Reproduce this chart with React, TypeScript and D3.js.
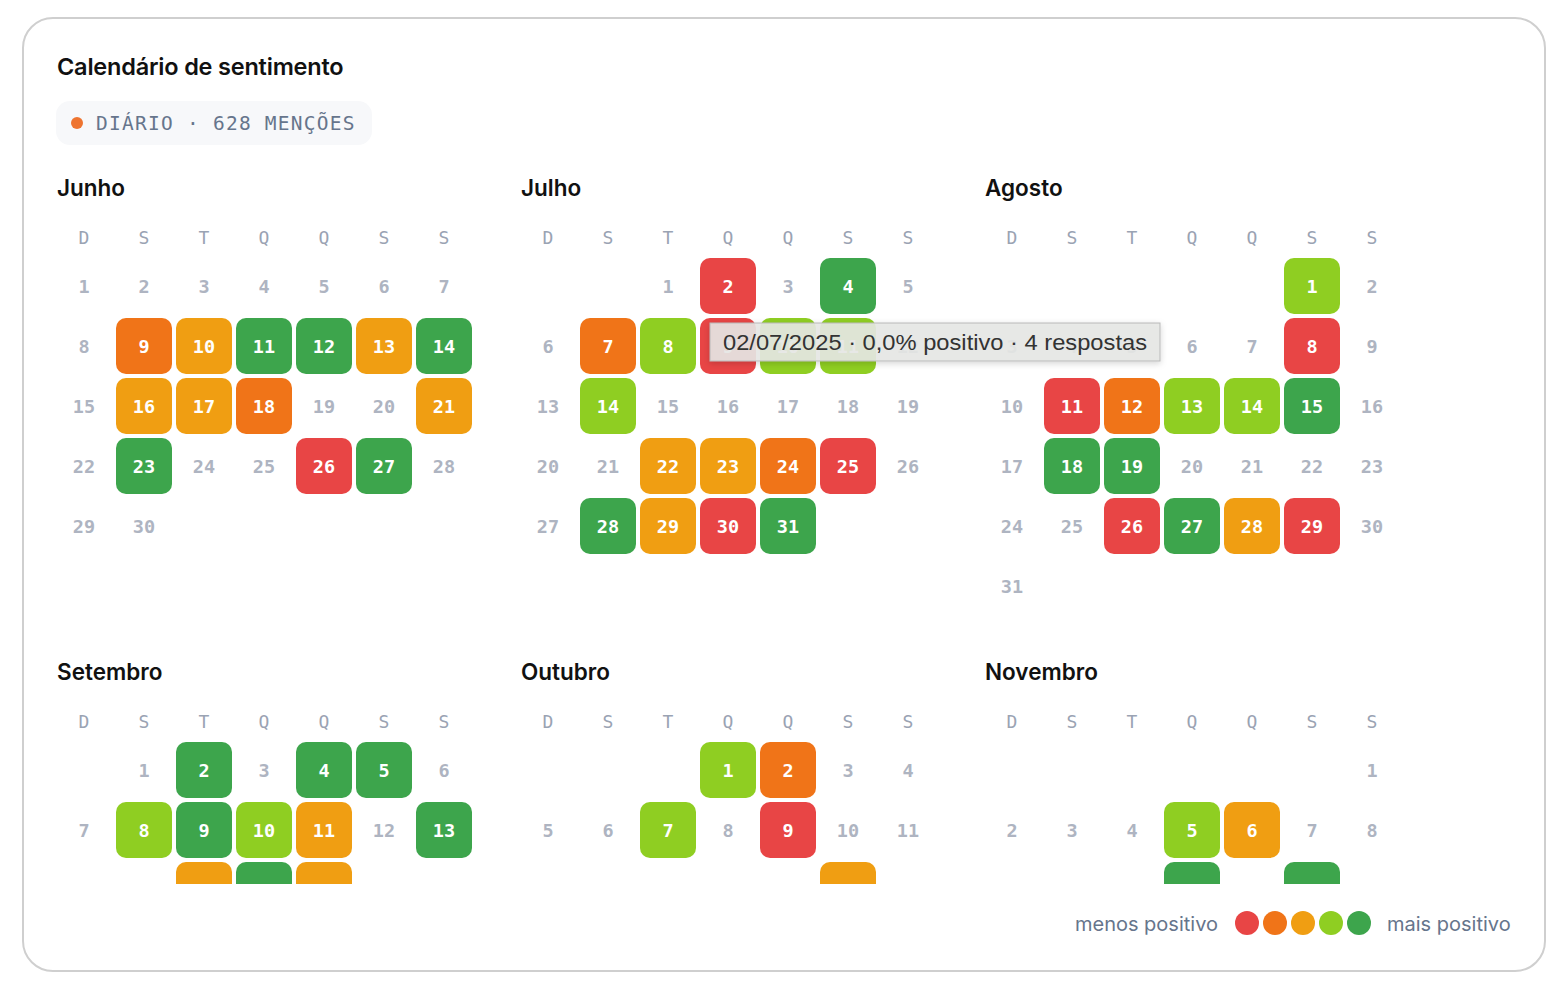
import React from "react";
import * as d3 from "d3";

// ---- data ----
const year = 2025;
const monthNames = ["Junho", "Julho", "Agosto", "Setembro", "Outubro", "Novembro"];
const monthIndex = [5, 6, 7, 8, 9, 10];
const weekdayLabels = ["D", "S", "T", "Q", "Q", "S", "S"];
// sentiment level per day: 0 = menos positivo ... 4 = mais positivo, null = sem dados
const _ = null;
const junho = [_, _, _, _, _, _, _, _, 1, 2, 4, 4, 2, 4, _, 2, 2, 1, _, _, 2, _, 4, _, _, 0, 4, _, _, _];
const julho = [_, 0, _, 4, _, _, 1, 3, 0, 3, 3, _, _, 3, _, _, _, _, _, _, _, 2, 2, 1, 0, _, _, 4, 2, 0, 4];
const agosto = [3, _, _, _, _, _, _, 0, _, _, 0, 1, 3, 3, 4, _, _, 4, 4, _, _, _, _, _, _, 0, 4, 2, 0, _, _];
const setembro = [_, 4, _, 4, 4, _, _, 3, 4, 3, 2, _, 4, _, _, 2, 4, 2, _, _, _, _, _, _, _, _, _, _, _, _];
const outubro = [3, 1, _, _, _, _, 3, _, 0, _, _, _, _, _, _, _, 2, _, _, _, _, _, _, _, _, _, _, _, _, _, _];
const novembro = [_, _, _, _, 3, 2, _, _, _, _, _, 4, _, 4, _, _, _, _, _, _, _, _, _, _, _, _, _, _, _, _];
const monthValues = [junho, julho, agosto, setembro, outubro, novembro];
const levelColors = ["#e84545", "#f07418", "#f09e12", "#8fce22", "#3da54c"];
const totalMentions = 628;
const tooltipText = "02/07/2025 · 0,0% positivo · 4 respostas";

const MONO = "'DejaVu Sans Mono', monospace";
const SANS = "Inter, 'Noto Sans', sans-serif";

export default function App() {
  const colX = d3.scaleBand<number>().domain(d3.range(7)).range([0, 416]).paddingInner(4 / 60).paddingOuter(0);
  const bw = colX.bandwidth();
  const blockX = d3.scalePoint<number>().domain([0, 1, 2]).range([56, 984]);
  const blockY = d3.scalePoint<number>().domain([0, 1]).range([188, 672]);
  const rowY = (r: number) => 98 + r * 60; // row center relative to title center
  const color = d3.scaleOrdinal<number, string>().domain(d3.range(5)).range(levelColors);

  return (
    <svg width={1566} height={988} style={{ position: "absolute", left: 0, top: 0 }}>
      <defs>
        <clipPath id="monthsClip">
          <rect x={30} y={155} width={1500} height={729} />
        </clipPath>
        <filter id="tipShadow" x="-10%" y="-30%" width="120%" height="180%">
          <feDropShadow dx={0} dy={2} stdDeviation={3} floodColor="#000" floodOpacity={0.18} />
        </filter>
      </defs>
      <rect x={23} y={18} width={1522} height={953} rx={30} fill="#fff" stroke="#cfcfcf" strokeWidth={2} />
      <text x={57} y={75} fontFamily={SANS} fontWeight={600} fontSize={23.5} fill="#111" letterSpacing={-0.2}>
        Calendário de sentimento
      </text>
      <rect x={56} y={101} width={316} height={44} rx={14} fill="#f7f8fa" />
      <circle cx={77} cy={123} r={6} fill="#ee7430" />
      <text x={96} y={130} fontFamily={MONO} fontSize={19.5} letterSpacing={1.25} fill="#66758c">
        {`DIÁRIO · ${totalMentions} MENÇÕES`}
      </text>

      <g clipPath="url(#monthsClip)">
        {monthNames.map((name, i) => {
          const bx = blockX(i % 3)!;
          const by = blockY(Math.floor(i / 3))!;
          const first = new Date(year, monthIndex[i], 1);
          const days = d3.timeDays(first, d3.timeMonth.offset(first, 1));
          const vals = monthValues[i];
          return (
            <g key={name} transform={`translate(${bx},${by})`}>
              <text x={1} y={0} dy="0.35em" fontFamily={SANS} fontWeight={600} fontSize={22.5} fill="#111">
                {name}
              </text>
              {weekdayLabels.map((w, k) => (
                <text key={k} x={colX(k)! + bw / 2} y={50} dy="0.35em" textAnchor="middle" fontFamily={MONO} fontSize={18} fill="#9aa3b3">
                  {w}
                </text>
              ))}
              {days.map((d, j) => {
                const c = d.getDay();
                const r = d3.timeWeek.count(first, d);
                const v = vals[j];
                const cx = colX(c)! + bw / 2;
                const cy = rowY(r);
                return (
                  <g key={j}>
                    {v !== null && v !== undefined && (
                      <rect x={colX(c)!} y={cy - bw / 2} width={bw} height={bw} rx={10} fill={color(v)} />
                    )}
                    <text x={cx} y={cy} dy="0.36em" textAnchor="middle" fontFamily={MONO} fontWeight={700} fontSize={18.5}
                      fill={v !== null && v !== undefined ? "#fff" : "#aeb4c1"}>
                      {d.getDate()}
                    </text>
                  </g>
                );
              })}
            </g>
          );
        })}
      </g>

      <g filter="url(#tipShadow)">
        <rect x={710} y={323} width={450} height={38} fill="rgba(231,232,229,0.9)" stroke="#b9b9b9" strokeWidth={1} />
      </g>
      <text x={723} y={350} fontFamily="'Liberation Sans', Arial, sans-serif" fontSize={22} fill="#333" textLength={424} lengthAdjust="spacingAndGlyphs">
        {tooltipText}
      </text>

      <text x={1218} y={931} textAnchor="end" fontFamily={SANS} fontSize={20} fill="#66758c">menos positivo</text>
      {levelColors.map((c, k) => (
        <circle key={k} cx={1247 + k * 28} cy={923} r={12} fill={c} />
      ))}
      <text x={1387} y={931} fontFamily={SANS} fontSize={20} fill="#66758c">mais positivo</text>
    </svg>
  );
}
